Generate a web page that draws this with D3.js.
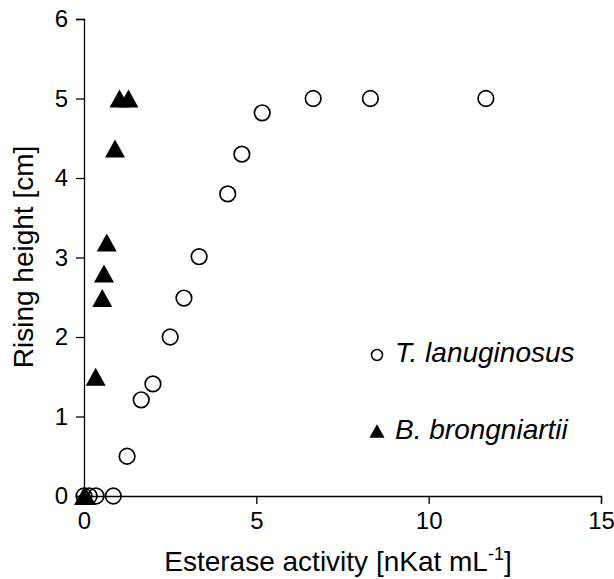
<!DOCTYPE html>
<html><head><meta charset="utf-8">
<script src="https://cdn.jsdelivr.net/npm/d3@7"></script>
<style>body{margin:0;background:#fff}svg{display:block}text{font-family:"Liberation Sans",Arial,sans-serif}</style>
</head><body><svg id="c" width="614" height="579"></svg>
<script>
const tlanX = [0, 0.15, 0.35, 0.85, 1.25, 1.66, 2.0, 2.5, 2.9, 3.34, 4.17, 4.58, 5.17, 6.65, 8.31, 11.66];
const tlanY = [0, 0, 0, 0, 0.5, 1.21, 1.41, 2.0, 2.49, 3.01, 3.8, 4.3, 4.82, 5, 5, 5];
const bbX = [0, 0.05, 0.34, 0.53, 0.58, 0.66, 0.9, 1.03, 1.29];
const bbY = [0, 0, 1.5, 2.49, 2.8, 3.19, 4.37, 5, 5];
const xTicks = [0, 5, 10, 15];
const yTicks = [0, 1, 2, 3, 4, 5, 6];
const seriesNames = ["T. lanuginosus", "B. brongniartii"];

const svg = d3.select("#c");
const x = d3.scaleLinear().domain([0, 15]).range([84, 601]);
const y = d3.scaleLinear().domain([0, 6]).range([496, 19]);
const fmt = d3.format("d");

const xAxis = svg.append("g").attr("transform", `translate(0,${y(0)})`)
  .call(d3.axisBottom(x).tickValues(xTicks).tickFormat(fmt).tickSizeOuter(0).tickSize(8).tickPadding(8));
const yAxis = svg.append("g").attr("transform", `translate(${x(0)},0)`)
  .call(d3.axisLeft(y).tickValues(yTicks).tickFormat(fmt).tickSizeOuter(0).tickSize(8).tickPadding(8));
[xAxis, yAxis].forEach(a => {
  a.select(".domain").attr("stroke", "#000").attr("stroke-width", 1.3);
  a.selectAll(".tick line").attr("stroke", "#000").attr("stroke-width", 1.3);
  a.selectAll(".tick text").attr("fill", "#000").style("font-size", "24px").style("font-family", '"Liberation Sans",Arial,sans-serif');
});

// triangle centred on its bounding box (marker style)
const boxTriangle = {
  draw(ctx, size) {
    const w = Math.sqrt(size * 2 / 0.9), h = w * 0.9;
    ctx.moveTo(0, -h / 2); ctx.lineTo(w / 2, h / 2); ctx.lineTo(-w / 2, h / 2); ctx.closePath();
  }
};

svg.append("g").selectAll("circle").data(d3.range(tlanX.length)).join("circle")
  .attr("cx", i => x(tlanX[i])).attr("cy", i => y(tlanY[i])).attr("r", 7.8)
  .attr("fill", "none").attr("stroke", "#000").attr("stroke-width", 1.7);

svg.append("g").selectAll("path").data(d3.range(bbX.length)).join("path")
  .attr("d", d3.symbol().type(boxTriangle).size(180))
  .attr("transform", i => `translate(${x(bbX[i])},${y(bbY[i])})`)
  .attr("fill", "#000");

// legend
const lg = svg.append("g");
lg.append("circle").attr("cx", 377).attr("cy", 355).attr("r", 5.5).attr("fill", "none").attr("stroke", "#000").attr("stroke-width", 1.5);
lg.append("text").attr("x", 395).attr("y", 362).style("font-size", "28px").style("font-style", "italic").text(seriesNames[0]);
lg.append("path").attr("d", d3.symbol().type(boxTriangle).size(105)).attr("transform", "translate(377,431)").attr("fill", "#000");
lg.append("text").attr("x", 395).attr("y", 439).style("font-size", "28px").style("font-style", "italic").text(seriesNames[1]);

// axis titles
const xt = svg.append("text").attr("x", 338).attr("y", 571).attr("text-anchor", "middle").style("font-size", "28px");
xt.append("tspan").text("Esterase activity [nKat mL");
xt.append("tspan").attr("dy", -11).style("font-size", "18px").text("-1");
xt.append("tspan").attr("dy", 11).text("]");
svg.append("text").attr("transform", "translate(33,257) rotate(-90)").attr("text-anchor", "middle").style("font-size", "28px").text("Rising height [cm]");
</script></body></html>
